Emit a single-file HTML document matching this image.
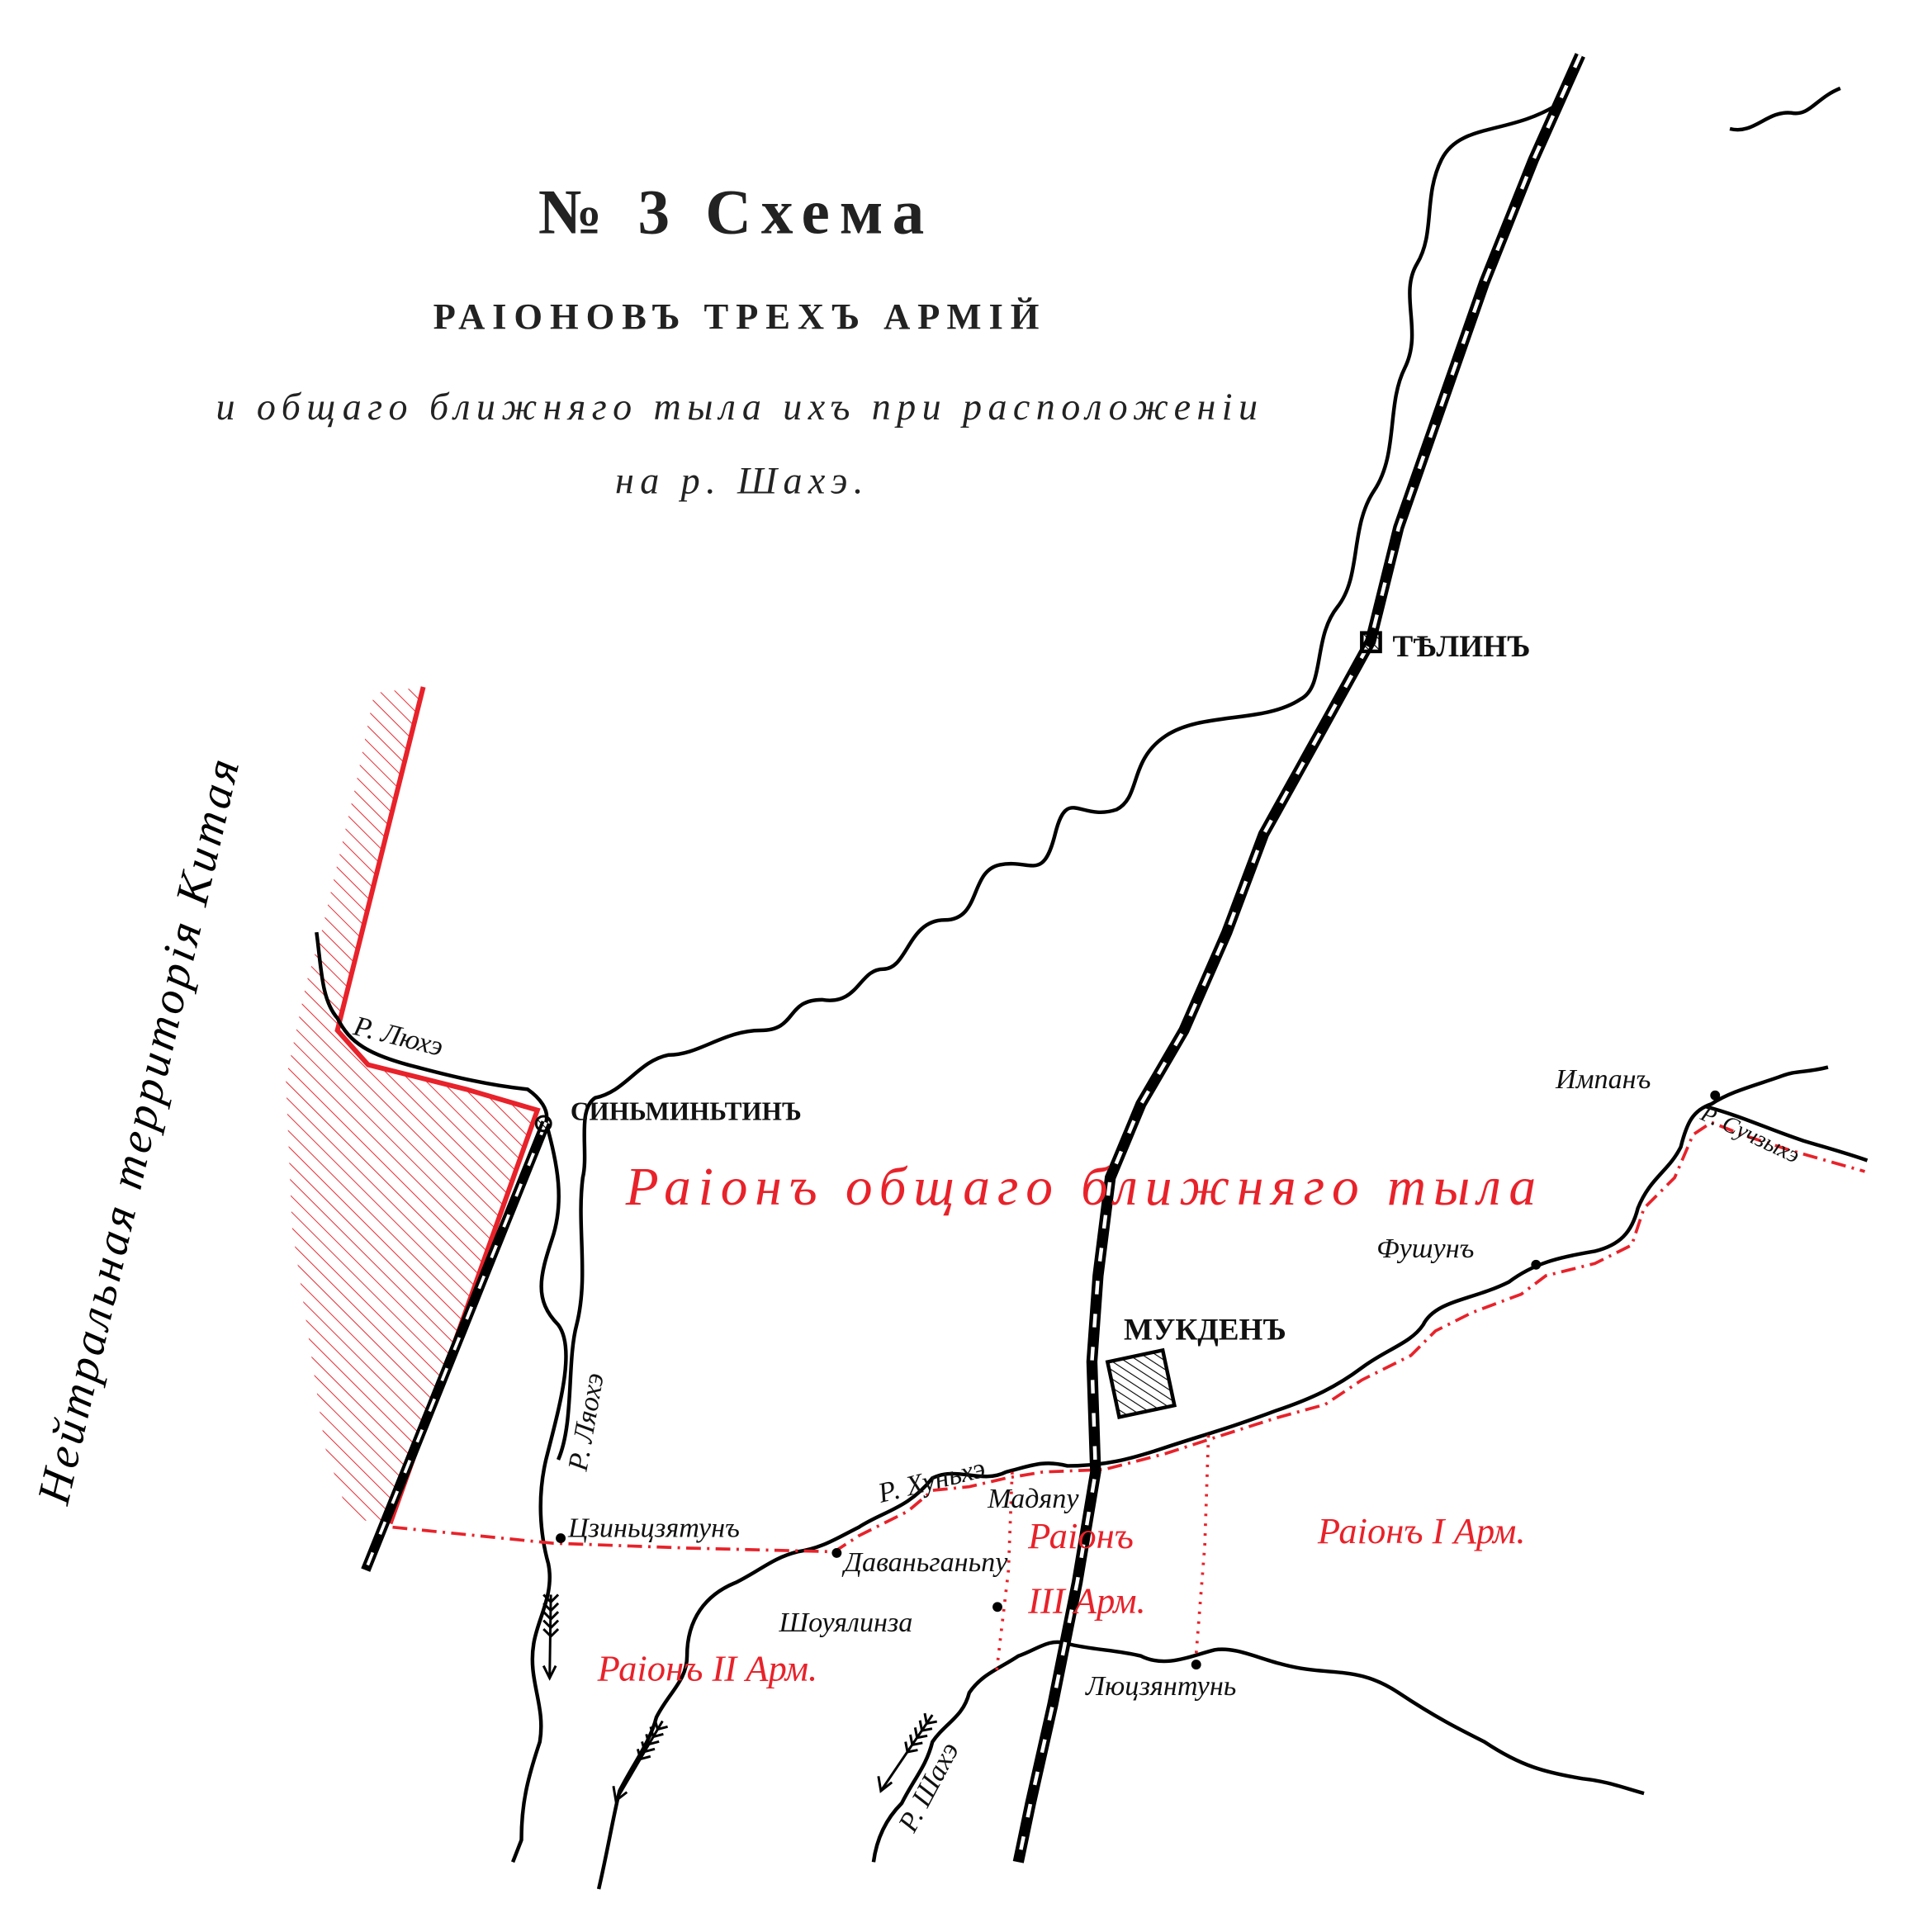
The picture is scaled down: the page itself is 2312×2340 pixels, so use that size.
<!DOCTYPE html>
<html><head><meta charset="utf-8"><style>
html,body{margin:0;padding:0;background:#fff;}
svg{display:block;}
text{font-family:"Liberation Serif",serif;}
.it{font-style:italic;}
</style></head><body>
<svg width="2312" height="2340" viewBox="0 0 1556 1575" preserveAspectRatio="none" xmlns="http://www.w3.org/2000/svg">
<defs>
<pattern id="h" width="9" height="9" patternUnits="userSpaceOnUse" patternTransform="rotate(-45)">
<line x1="0" y1="0" x2="0" y2="9" stroke="#e8222a" stroke-width="1.3"/>
</pattern>
<pattern id="hk" width="6" height="6" patternUnits="userSpaceOnUse" patternTransform="rotate(-45)">
<line x1="0" y1="0" x2="0" y2="6" stroke="#000" stroke-width="1.5"/>
</pattern>
</defs>
<rect width="1556" height="1575" fill="#fff"/>

<polygon points="305,565 345,560 275,840 300,868 380,888 438,905 318,1242 285,1238 265,1180 238,1000 233,880 250,800 262,760 290,640" fill="url(#h)"/>
<polyline points="345,560 275,840 300,868 380,888 438,905 318,1242" fill="none" stroke="#e8222a" stroke-width="4"/>

<g fill="none" stroke="#000" stroke-width="3" stroke-linejoin="round">
<path d="M1270,85 C1230,110 1190,100 1175,130 C1160,160 1170,190 1155,215 C1140,240 1160,270 1145,300 C1130,330 1140,370 1120,400 C1100,430 1110,470 1090,495 C1070,520 1080,560 1060,570 C1030,590 980,580 950,600 C920,620 930,650 910,660 C880,670 870,640 860,680 C850,720 840,700 815,705 C790,710 800,750 770,750 C740,750 740,790 720,790 C700,790 700,820 670,815 C640,815 650,840 620,840 C590,840 570,860 545,860 C520,865 510,890 485,895 C470,905 480,940 475,960 C470,1000 480,1040 470,1080 C462,1110 468,1160 455,1190"/>
<path d="M445,915 C455,950 460,980 450,1010 C440,1040 435,1060 455,1080 C470,1100 455,1150 445,1190 C438,1220 440,1250 447,1275 C452,1300 438,1320 435,1340 C430,1370 445,1390 440,1420 C430,1450 425,1470 425,1500 L418,1518"/>
<path d="M258,760 C262,790 262,815 275,830 C285,850 300,860 340,870 C370,878 400,885 430,888 C440,895 448,905 445,915"/>
<path d="M1410,105 C1430,110 1440,90 1460,92 C1475,95 1480,80 1500,72"/>
<path d="M488,1540 C495,1510 500,1480 505,1460 C515,1440 530,1420 535,1400 C545,1380 560,1370 560,1350 C560,1320 575,1300 600,1290 C620,1280 630,1270 650,1265 C670,1262 680,1255 700,1245 C720,1232 740,1230 760,1205 C780,1195 800,1210 820,1200 C840,1195 850,1190 870,1195 C900,1195 920,1190 950,1180 C980,1170 1000,1165 1040,1150 C1070,1140 1090,1130 1110,1115 C1130,1100 1150,1095 1160,1080 C1170,1060 1200,1060 1230,1045 C1250,1030 1270,1025 1300,1020 C1320,1015 1330,1005 1335,985 C1345,960 1360,955 1370,935 C1375,915 1380,905 1395,900 C1410,890 1430,885 1450,878 C1465,872 1470,875 1490,870"/>
<path d="M1390,902 C1420,910 1440,920 1470,930 C1490,936 1505,940 1522,946"/>
<path d="M712,1518 C715,1495 725,1480 735,1470 C745,1450 755,1440 760,1420 C770,1405 785,1400 790,1380 C800,1365 815,1360 830,1350 C845,1345 855,1335 870,1340 C890,1345 910,1345 930,1350 C950,1360 970,1350 990,1345 C1010,1342 1030,1355 1060,1360 C1090,1365 1110,1360 1140,1380 C1170,1400 1190,1410 1210,1420 C1240,1440 1260,1445 1290,1450 C1310,1452 1325,1458 1340,1462"/>
</g>

<g fill="none" stroke="#e8222a" stroke-width="2.5" stroke-dasharray="12,5,2,5">
<polyline points="320,1245 450,1258 560,1262 680,1265 700,1252 740,1232 760,1215 790,1212 820,1205 850,1200 900,1198 950,1185 990,1172 1040,1156 1080,1145 1110,1125 1150,1105 1170,1085 1200,1070 1240,1055 1260,1040 1300,1030 1330,1015 1340,985 1365,960 1380,925 1395,915 1420,925 1460,938 1520,955"/>
</g>
<g fill="none" stroke="#e8222a" stroke-width="2.5" stroke-dasharray="2,6">
<polyline points="825,1200 822,1280 812,1365"/>
<polyline points="985,1170 982,1260 975,1348"/>
</g>

<g fill="none" stroke-linecap="butt">
<polyline points="1288,45 1250,130 1210,230 1175,330 1140,430 1117,523 1080,590 1030,680 1000,760 965,840 930,900 905,960 895,1040 890,1110 893,1200 878,1290 858,1390 840,1470 830,1518" stroke="#000" stroke-width="9"/>
<polyline points="1288,45 1250,130 1210,230 1175,330 1140,430 1117,523 1080,590 1030,680 1000,760 965,840 930,900 905,960 895,1040 890,1110 893,1200 878,1290 858,1390 840,1470 830,1518" stroke="#fff" stroke-width="3" stroke-dasharray="11,16"/>
<line x1="445" y1="915" x2="298" y2="1280" stroke="#000" stroke-width="8"/>
<line x1="445" y1="915" x2="298" y2="1280" stroke="#fff" stroke-width="2.5" stroke-dasharray="11,16"/>
</g>

<rect x="1110" y="516" width="15" height="15" fill="url(#hk)" stroke="#000" stroke-width="3"/>
<circle cx="443" cy="916" r="6" fill="url(#hk)" stroke="#000" stroke-width="2"/>
<g transform="rotate(-12 930 1128)"><rect x="907" y="1105" width="46" height="46" fill="url(#hk)" stroke="#000" stroke-width="3"/></g>
<g fill="#000">
<circle cx="457" cy="1254" r="4"/><circle cx="682" cy="1266" r="4"/><circle cx="813" cy="1310" r="4"/>
<circle cx="975" cy="1357" r="4"/><circle cx="1252" cy="1031" r="4"/><circle cx="1398" cy="893" r="4"/>
</g>

<g stroke="#000" stroke-width="2" fill="none">
<line x1="449" y1="1300" x2="448" y2="1368"/><polyline points="443,1358 448,1368 453,1358"/>
<path d="M443,1300 l6,6 l6,-6 M443,1307 l6,6 l6,-6 M443,1314 l6,6 l6,-6 M443,1321 l6,6 l6,-6 M443,1328 l6,6 l6,-6"/>
<line x1="540" y1="1403" x2="502" y2="1468"/><polyline points="500,1456 502,1468 511,1461"/>
<g transform="translate(533,1415) rotate(30)"><path d="M-6,-12 l6,6 l6,-6 M-6,-5 l6,6 l6,-6 M-6,2 l6,6 l6,-6 M-6,9 l6,6 l6,-6 M-6,16 l6,6 l6,-6"/></g>
<line x1="760" y1="1398" x2="718" y2="1460"/><polyline points="716,1448 718,1460 727,1453"/>
<g transform="translate(752,1410) rotate(34)"><path d="M-6,-12 l6,6 l6,-6 M-6,-5 l6,6 l6,-6 M-6,2 l6,6 l6,-6 M-6,9 l6,6 l6,-6 M-6,16 l6,6 l6,-6"/></g>
</g>

<text x="600" y="190" font-size="52" font-weight="bold" text-anchor="middle" font-family="Liberation Sans Narrow, Liberation Sans, sans-serif" letter-spacing="8" fill="#222">№ 3 Схема</text>
<text x="603" y="268" font-size="30" font-weight="bold" text-anchor="middle" font-family="Liberation Mono, monospace" letter-spacing="6" fill="#222">РАIОНОВЪ ТРЕХЪ АРМIЙ</text>
<text x="603" y="342" font-size="31" class="it" text-anchor="middle" letter-spacing="5" fill="#222">и общаго ближняго тыла ихъ при расположенiи</text>
<text x="605" y="402" font-size="31" class="it" text-anchor="middle" letter-spacing="5" fill="#222">на р. Шахэ.</text>

<text transform="translate(55,1228) rotate(-77)" font-size="38" class="it" letter-spacing="3" fill="#000">Нейтральная территорія Китая</text>

<g font-family="Liberation Sans, sans-serif" font-weight="bold" fill="#111">
<text x="1135" y="535" font-size="25">ТѢЛИНЪ</text>
<text x="465" y="913" font-size="21">СИНЬМИНЬТИНЪ</text>
<text x="916" y="1092" font-size="25">МУКДЕНЪ</text>
</g>

<g fill="#e8222a" class="it">
<text x="510" y="982" font-size="44" letter-spacing="6">Раіонъ общаго ближняго тыла</text>
<text x="1074" y="1258" font-size="30">Раіонъ I Арм.</text>
<text x="838" y="1262" font-size="30">Раіонъ</text>
<text x="838" y="1315" font-size="30">III Арм.</text>
<text x="487" y="1370" font-size="30">Раіонъ II Арм.</text>
</g>

<g fill="#111" class="it" font-size="23">
<text x="1268" y="887">Импанъ</text>
<text x="1122" y="1025">Фушунъ</text>
<text x="805" y="1229">Мадяпу</text>
<text x="463" y="1253">Цзиньцзятунъ</text>
<text x="688" y="1281">Даваньганьпу</text>
<text x="635" y="1330">Шоуялинза</text>
<text x="885" y="1382">Люцзянтунь</text>
<text transform="translate(287,843) rotate(14)">Р. Люхэ</text>
<text transform="translate(718,1225) rotate(-14)">Р. Хуньхэ</text>
<text transform="translate(478,1200) rotate(-80)">Р. Ляохэ</text>
<text transform="translate(745,1495) rotate(-62)">Р. Шахэ</text>
<text transform="translate(1385,912) rotate(25)" font-size="19">Р. Сучзыхэ</text>
</g>
</svg>
</body></html>
